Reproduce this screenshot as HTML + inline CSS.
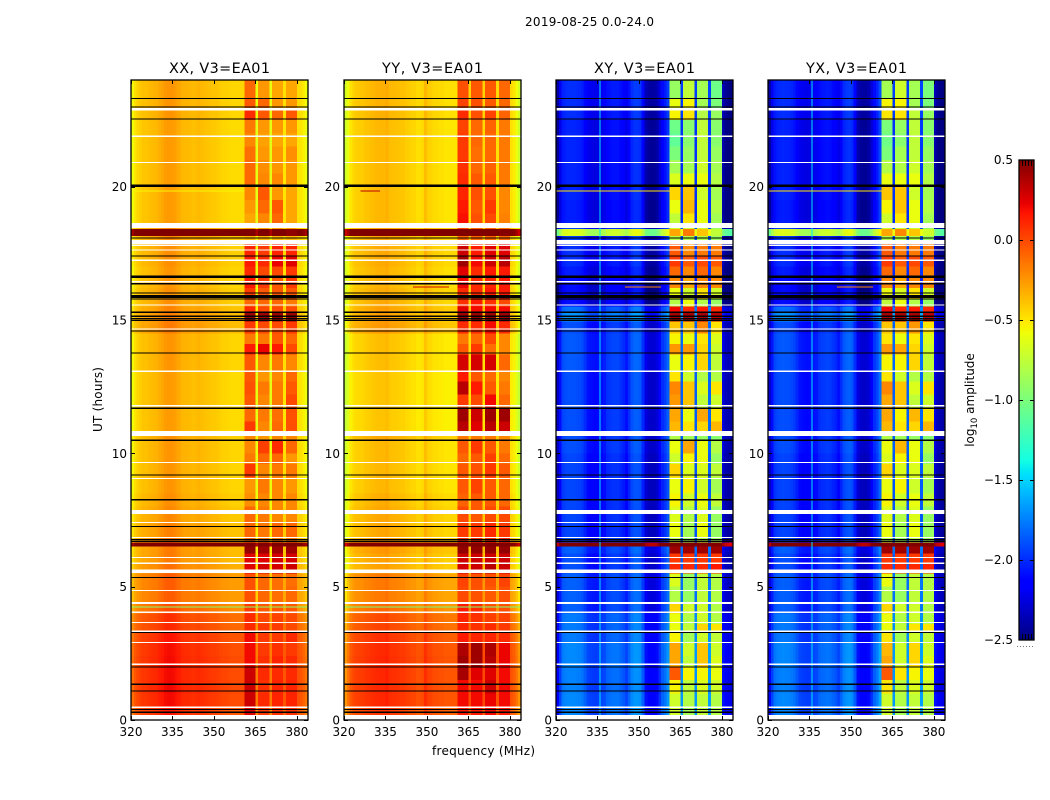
<!DOCTYPE html>
<html lang="en">
<head>
<meta charset="utf-8">
<title>2019-08-25 0.0-24.0</title>
<style>
html,body{margin:0;padding:0;background:#fff;}
svg{display:block;}
text{font-family:"DejaVu Sans","Liberation Sans",sans-serif;fill:#000;}
</style>
</head>
<body>
<svg id="fig" xmlns="http://www.w3.org/2000/svg" width="1050" height="800" viewBox="0 0 1050 800">
  <rect width="1050" height="800" fill="#fff"/>
  <text x="589.5" y="26" font-size="12" text-anchor="middle" textLength="129">2019-08-25 0.0-24.0</text>
  <text x="483.5" y="755" font-size="12" text-anchor="middle" textLength="103">frequency (MHz)</text>
  <text transform="translate(102,399.5) rotate(-90)" font-size="12" text-anchor="middle" textLength="65">UT (hours)</text>
  <text transform="translate(974,400) rotate(-90)" font-size="12" text-anchor="middle">log<tspan font-size="8.5" dy="3">10</tspan><tspan dy="-3"> amplitude</tspan></text>
  <g id="panels"></g>
  <g id="colorbar"></g>
</svg>
<script>
/* ---- data ---- */
const panelNames = ['XX, V3=EA01', 'YY, V3=EA01', 'XY, V3=EA01', 'YX, V3=EA01'];
const xTicks = [320, 335, 350, 365, 380];
const yTicks = [0, 5, 10, 15, 20];
const cbarTicks = [0.5, 0.0, -0.5, -1.0, -1.5, -2.0, -2.5];

/* time-row edges in hours, top to bottom */
const rowEdges = [24,23.3,22.95,22.5,22,21.5,21,20.5,20.05,19.5,19,18.6,18.41,18.15,17.85,17.4,17,16.6,16.2,15.8,15.5,15.3,14.95,14.5,14.1,13.7,13.1,12.7,12.2,11.7,11.2,10.8,10.5,10,9.6,9.1,8.5,8,7.4,6.85,6.65,6.5,6.25,5.9,5.5,5,4.4,4,3.6,3.3,2.9,2.4,2,1.5,1,0.5,0];

/* which receiver sub-band block each 1-MHz channel belongs to (0 = continuum level) */
const channelBlock = [0,0,0,0,0,0,0,0,0,0,0,0,0,0,0,0,0,0,0,0,0,0,0,0,0,0,0,0,0,0,0,0,0,0,0,0,0,0,0,0,0,1,1,1,1,0,2,2,2,2,0,3,3,3,3,0,4,4,4,4,0,0,0,0];

/* per-channel spectral shape (log10 offset), one array per polarisation */
const xxProfile = [-.18,-.1,-.05,-.02,0,0,.02,.03,.04,.05,.08,.1,.13,.14,.14,.13,.1,.08,.05,.04,.04,.03,.02,.03,.04,.03,.02,.01,0,-.01,-.01,-.02,-.04,-.05,-.05,-.06,-.07,-.07,-.07,-.07,-.07,0,0,0,0,-.22,0,0,0,0,-.22,0,0,0,0,-.1,0,0,0,0,-.08,-.1,-.14,-.2];
const yyProfile = [-.3,-.2,-.1,-.05,-.03,-.02,-.02,0,.01,.02,.03,.04,.05,.05,.05,.07,.03,.02,.02,.01,0,0,-.02,-.03,-.05,-.05,-.08,-.08,-.06,.03,-.03,-.04,-.07,-.07,-.08,-.08,-.1,-.1,-.1,-.1,-.1,0,0,0,0,-.06,0,0,0,0,-.06,0,0,0,0,-.08,0,0,0,0,-.08,-.12,-.2,-.3];
const xyProfile = [-.25,-.05,.12,.15,.16,.16,.16,.15,.14,.12,.05,-.03,-.05,-.06,-.07,-.05,-.04,-.02,.06,.08,.1,.1,.1,.06,.02,-.04,.06,.16,.2,.2,.18,.04,-.2,-.25,-.26,-.26,-.22,-.1,.05,.1,.2,0,0,0,0,.2,0,0,0,0,.2,0,0,0,0,.22,0,0,0,0,-.2,-.3,-.33,-.35];
const yxProfile = [-.25,-.05,.1,.14,.15,.16,.15,.15,.13,.1,.04,-.03,-.05,-.06,-.07,-.05,-.04,-.02,.05,.08,.09,.1,.09,.05,.02,-.04,.05,.15,.19,.2,.17,.03,-.2,-.25,-.26,-.26,-.22,-.1,.05,.12,.25,0,0,0,0,.2,0,0,0,0,.2,0,0,0,0,.22,0,0,0,0,-.2,-.3,-.33,-.35];

/* per-row levels: [continuum, block1, block2, block3, block4] */
const xxRows = [
[-.38,-.1,-.25,-.3,-.3],[-.38,-.05,-.1,-.25,-.25],[-.38,.1,-.05,-.1,-.05],[-.4,-.15,-.25,-.25,-.25],[-.4,-.2,-.28,-.3,-.3],[-.4,-.12,-.25,-.25,-.22],[-.4,-.1,-.22,-.25,-.25],[-.4,-.1,-.2,-.2,-.25],
[-.4,-.2,-.05,-.25,-.3],[-.4,-.25,-.1,-.05,-.3],[-.4,-.3,-.2,-.1,-.3],[-.34,-.3,-.3,-.3,-.3],[.6,.52,.52,.5,.46],[-.34,-.35,-.35,-.35,-.35],[-.36,.12,.05,.12,.12],[-.36,.15,.1,.22,.25],
[-.38,.1,0,0,.05],[-.38,.15,.05,-.05,.05],[-.36,.05,-.05,-.05,-.05],[-.36,-.1,-.1,-.1,-.15],[-.32,.1,0,0,0],[-.3,.42,.42,.42,.42],[-.3,.05,0,0,.05],[-.38,-.15,-.15,-.05,-.1],
[-.38,.15,.22,.15,0],[-.38,-.05,-.2,-.15,-.2],[-.4,-.05,-.25,-.2,-.1],[-.4,-.02,-.15,-.15,-.05],[-.4,-.05,-.2,-.15,0],[-.4,-.1,-.15,-.12,-.02],[-.4,.05,-.2,-.1,-.02],[-.36,-.2,-.25,-.2,-.2],
[-.38,-.2,.03,.1,-.1],[-.38,-.15,-.1,-.1,-.25],[-.38,.05,-.2,-.15,-.15],[-.38,-.25,-.15,-.2,-.25],[-.36,-.22,-.2,-.2,-.2],[-.34,-.1,-.15,-.2,-.2],[-.32,-.1,-.15,-.1,-.1],[-.28,-.1,-.15,-.15,-.15],
[.6,.52,.52,.52,.52],[-.3,.45,.42,.42,.42],[-.3,.25,.25,.28,.28],[-.26,.25,.28,.28,.3],[-.2,-.02,-.1,-.12,-.12],[-.2,-.02,-.1,-.12,-.1],[-.15,.05,-.05,-.05,-.05],[-.05,.1,0,.02,0],
[-.03,.1,.05,.05,0],[.03,.2,.05,.05,.1],[.05,.2,.05,.08,.05],[.06,.2,.08,.12,.1],[.06,.3,.1,.1,.1],[.07,.3,.08,.12,.12],[.06,.3,.1,.12,.12],[.03,.25,.05,.08,.08]];
const yyRows = [
[-.38,-.02,-.05,-.05,-.1],[-.38,.02,-.02,-.05,-.1],[-.38,.1,-.02,.02,-.08],[-.4,.02,-.1,-.08,-.15],[-.4,.05,-.1,-.1,-.15],[-.4,.05,-.12,-.1,-.15],[-.4,.08,-.1,-.08,-.15],[-.4,.1,-.05,-.05,-.15],
[-.4,.12,-.02,-.02,-.2],[-.4,.15,-.05,.05,-.2],[-.4,.18,-.02,0,-.18],[-.35,0,-.1,-.1,-.15],[.6,.52,.52,.52,.48],[-.35,-.1,-.1,-.1,-.1],[-.36,.3,.15,.25,.25],[-.36,.42,.2,.3,.35],
[-.38,.25,.1,.15,.15],[-.38,.22,.1,.12,.15],[-.36,.1,.1,.15,.15],[-.36,.08,.15,.08,0],[-.32,.25,.2,.2,.2],[-.32,.42,.42,.42,.42],[-.3,.1,.1,.2,.1],[-.42,-.15,-.1,0,-.2],
[-.42,-.05,.05,-.12,-.2],[-.42,.28,.28,.28,-.1],[-.44,.15,-.05,-.1,-.2],[-.44,.35,.15,-.05,-.15],[-.44,.05,0,.2,-.1],[-.44,.42,.3,.42,.42],[-.44,.35,.25,.35,.3],[-.35,-.15,-.15,-.15,-.2],
[-.4,-.05,.05,-.05,-.15],[-.4,-.1,-.05,.03,-.1],[-.4,-.05,-.02,.05,-.05],[-.4,-.05,.02,-.05,-.1],[-.37,-.08,-.05,-.05,-.1],[-.35,0,-.05,0,0],[-.35,.05,.05,.1,.05],[-.32,.1,.1,.1,.1],
[.6,.55,.55,.55,.55],[-.3,.45,.45,.45,.45],[-.33,.3,.3,.3,.3],[-.33,.28,.3,.35,.3],[-.2,.02,-.02,-.02,.02],[-.2,0,-.03,-.05,-.02],[-.15,.15,.1,-.02,-.02],[-.05,.12,.08,.03,.02],
[-.03,.12,.08,.1,.05],[.03,.15,.12,.12,.1],[.05,.38,.42,.38,.22],[.06,.42,.42,.35,.22],[.06,.4,.25,.25,.2],[.06,.2,.2,.3,.2],[.06,.2,.2,.22,.2],[.02,.15,.15,.2,.15]];
const xyRows = [
[-2.15,-.9,-.75,-.85,-1.05],[-2.15,-.6,-.55,-.85,-1],[-2.15,-.55,-.5,-.8,-.9],[-2.18,-1.05,-.95,-.75,-.95],[-2.18,-1.1,-.95,-.75,-.95],[-2.18,-1,-.9,-.75,-.9],[-2.18,-.85,-.85,-.7,-.85],[-2.18,-.65,-.6,-.6,-.8],
[-2.18,-.45,-.4,-.7,-.85],[-2.2,-.6,-.35,-.6,-.8],[-2.2,-.75,-.5,-.6,-.85],[-2.1,-.7,-.7,-.7,-.9],[-.8,-.3,-.15,-.4,-.75],[-2.1,-.8,-.8,-.8,-.9],[-2.15,-.05,-.2,-.15,-.15],[-2.15,.05,-.05,0,-.05],
[-2.2,-.1,-.2,-.1,-.2],[-2.25,-.2,-.3,-.2,-.2],[-2.25,-.6,-.7,-.5,-.7],[-2.25,-.8,-.6,-.8,-.9],[-1.95,.2,.1,.15,.1],[-1.85,.4,.4,.4,.35],[-2.05,-.4,-.4,-.2,-.5],[-2.02,-.55,-.6,-.5,-.65],
[-2.02,-.25,-.25,-.45,-.7],[-2.02,-.6,-.55,-.45,-.75],[-2.05,-.5,-.7,-.8,-.8],[-2.05,-.2,-.4,-.65,-.5],[-2.05,-.25,-.4,-.75,-.7],[-2.05,-.3,-.6,-.3,-.5],[-2.05,-.35,-.5,-.45,-.35],[-2.05,-.8,-.85,-.9,-.95],
[-2.05,-.6,-.3,-.6,-.8],[-2.08,-.7,-.55,-.6,-.9],[-2.08,-.45,-.65,-.65,-.75],[-2.08,-.6,-.55,-.7,-.85],[-2.08,-.55,-.7,-.6,-.75],[-2.08,-.65,-.8,-.65,-.9],[-2.08,-.6,-.85,-.6,-.9],[-2.05,-.8,-.9,-.8,-.9],
[.6,.6,.6,.6,.6],[-2,.42,.42,.42,.42],[-2.05,.05,.05,.05,.05],[-2.05,.1,.1,.1,.15],[-2,-.65,-.9,-.75,-.8],[-2,-.8,-.9,-.75,-.8],[-2,-.45,-.7,-.7,-.8],[-1.92,-.6,-.8,-.7,-.8],
[-1.92,-.6,-.75,-.45,-.5],[-1.92,-.55,-.85,-.7,-.75],[-1.88,-.3,-.7,-.4,-.7],[-1.88,-.3,-.75,-.4,-.65],[-1.9,-.05,-.55,-.55,-.6],[-1.9,-.55,-.75,-.65,-.7],[-1.88,-.7,-.8,-.75,-.8],[-1.88,-.7,-.85,-.75,-.8]];
const yxRows = [
[-2.15,-.85,-.7,-.85,-1],[-2.15,-.55,-.55,-.85,-1],[-2.15,-.5,-.5,-.75,-.9],[-2.18,-1,-.9,-.75,-.95],[-2.18,-1.05,-.95,-.75,-.95],[-2.18,-1,-.85,-.75,-.9],[-2.18,-.8,-.8,-.7,-.85],[-2.18,-.6,-.6,-.6,-.8],
[-2.18,-.4,-.4,-.7,-.85],[-2.2,-.55,-.4,-.6,-.8],[-2.2,-.7,-.5,-.6,-.85],[-2.1,-.7,-.7,-.7,-.9],[-.8,-.3,-.2,-.4,-.7],[-2.1,-.8,-.8,-.8,-.9],[-2.15,-.05,-.15,-.15,-.15],[-2.15,.05,-.05,0,-.05],
[-2.2,-.1,-.2,-.1,-.2],[-2.25,-.2,-.3,-.2,-.2],[-2.25,-.6,-.65,-.5,-.7],[-2.25,-.75,-.6,-.8,-.9],[-1.95,.2,.1,.15,.1],[-1.85,.4,.4,.4,.35],[-2.05,-.4,-.4,-.25,-.5],[-2.02,-.5,-.6,-.5,-.65],
[-2.02,-.25,-.3,-.45,-.7],[-2.02,-.55,-.55,-.45,-.75],[-2.05,-.5,-.7,-.8,-.8],[-2.05,-.2,-.4,-.65,-.5],[-2.05,-.3,-.4,-.75,-.7],[-2.05,-.3,-.55,-.35,-.5],[-2.05,-.35,-.5,-.45,-.35],[-2.05,-.8,-.85,-.9,-.95],
[-2.05,-.6,-.35,-.6,-.8],[-2.08,-.65,-.55,-.6,-.9],[-2.08,-.45,-.65,-.65,-.75],[-2.08,-.6,-.55,-.7,-.85],[-2.08,-.55,-.7,-.6,-.75],[-2.08,-.65,-.8,-.65,-.9],[-2.08,-.6,-.85,-.6,-.9],[-2.05,-.8,-.9,-.8,-.9],
[.6,.6,.6,.6,.6],[-2,.42,.42,.42,.42],[-2.05,.05,.05,.05,.05],[-2.05,.1,.1,.1,.12],[-2,-.6,-.9,-.75,-.8],[-2,-.8,-.9,-.75,-.8],[-2,-.45,-.7,-.7,-.8],[-1.92,-.6,-.8,-.7,-.8],
[-1.92,-.6,-.75,-.5,-.5],[-1.92,-.5,-.85,-.7,-.75],[-1.88,-.35,-.7,-.45,-.7],[-1.88,-.3,-.7,-.45,-.65],[-1.9,-.05,-.5,-.55,-.6],[-1.9,-.5,-.75,-.65,-.7],[-1.88,-.7,-.8,-.75,-.8],[-1.88,-.7,-.85,-.75,-.8]];

/* flagged (blank) time ranges [startHour, endHour], white = no data, black = masked */
const whiteGaps = [[22.95,22.85],[21.91,21.87],[20.93,20.89],[18.64,18.45],[18.0,17.85],[17.83,17.78],[17.65,17.6],[17.27,17.22],[16.46,16.41],[15.59,15.54],[14.69,14.64],[13.1,13.05],[11.81,11.76],[10.83,10.65],[9.68,9.63],[9.08,9.03],[7.875,7.725],[7.43,7.38],[6.87,6.82],[6.12,6.07],[5.9,5.85],[5.65,5.51],[4.88,4.83],[4.42,4.35],[4.06,4.01],[3.68,3.63],[3.36,3.3],[2.93,2.88],[2.11,2.06],[0.5,0.45],[0.19,0.0]];
const blackLines = [[23.33,23.29],[23.01,22.97],[22.55,22.51],[20.08,19.99],[18.1,18.06],[17.42,17.38],[16.66,16.58],[16.38,16.34],[16.04,16.0],[15.94,15.83],[15.81,15.77],[15.31,15.27],[15.17,15.12],[15.07,15.03],[15.01,14.97],[14.6,14.56],[13.78,13.74],[11.71,11.67],[10.51,10.47],[9.2,9.16],[8.28,8.24],[7.28,7.24],[6.78,6.74],[6.72,6.68],[5.37,5.33],[3.3,3.26],[2.0,1.96],[1.36,1.32],[1.1,1.06],[0.41,0.37],[0.31,0.27]];

/* short RFI streaks: [hour, first channel, last channel, log10 value] */
const xxStreaks = [[19.84,0,40,-.55],[4.24,0,63,-.95],[13.06,26,37,-.02]];
const yyStreaks = [[19.84,6,12,.35],[16.24,25,37,.3],[13.06,31,38,.45],[4.24,0,63,-1.0]];
const xyStreaks = [[19.84,0,40,-.5],[16.24,25,37,-.2],[13.06,26,38,-.6],[1.34,12,14,-.4],[1.34,30,38,-.5]];
const yxStreaks = [[19.84,0,40,-.5],[16.24,25,37,-.2],[13.06,26,38,-.6],[1.34,12,14,-.4],[1.34,30,38,-.5]];

/* narrow constant-frequency spurs: [MHz, log10 value] */
const xxSpurs = [];
const yySpurs = [];
const xySpurs = [[335.7,-1.45]];
const yxSpurs = [[335.7,-1.45]];

const panelProfiles = [xxProfile, yyProfile, xyProfile, yxProfile];
const panelRows = [xxRows, yyRows, xyRows, yxRows];
const panelStreaks = [xxStreaks, yyStreaks, xyStreaks, yxStreaks];
const panelSpurs = [xxSpurs, yySpurs, xySpurs, yxSpurs];

/* ---- layout and scales ---- */
const NS = 'http://www.w3.org/2000/svg';
const panelLefts = [131, 344, 556, 768];
const plotW = 177, plotTop = 80, plotBottom = 720;
const fMin = 320, fMax = 384, hMax = 24;
const cbar = {x: 1019, w: 15, top: 160, bottom: 640, vMin: -2.5, vMax: 0.5};

function xScale(left, f) { return left + (f - fMin) / (fMax - fMin) * plotW; }
function yScale(h) { return plotBottom - h / hMax * (plotBottom - plotTop); }
function cScale(v) { return cbar.bottom - (v - cbar.vMin) / (cbar.vMax - cbar.vMin) * (cbar.bottom - cbar.top); }

function interp(pts, t) {
  for (let i = 1; i < pts.length; i++) {
    if (t <= pts[i][0]) {
      const a = pts[i - 1], b = pts[i];
      return a[1] + (b[1] - a[1]) * (t - a[0]) / (b[0] - a[0]);
    }
  }
  return pts[pts.length - 1][1];
}
const jetR = [[0,0],[.35,0],[.66,1],[.89,1],[1,.5]];
const jetG = [[0,0],[.125,0],[.375,1],[.64,1],[.91,0],[1,0]];
const jetB = [[0,.5],[.11,1],[.34,1],[.65,0],[1,0]];
function jet(v) {
  const t = Math.max(0, Math.min(1, (v - cbar.vMin) / (cbar.vMax - cbar.vMin)));
  return 'rgb(' + Math.round(interp(jetR, t) * 255) + ',' + Math.round(interp(jetG, t) * 255) + ',' + Math.round(interp(jetB, t) * 255) + ')';
}
function mk(tag, attrs, parent) {
  const el = document.createElementNS(NS, tag);
  for (const k in attrs) el.setAttribute(k, attrs[k]);
  parent.appendChild(el);
  return el;
}
function tickLine(parent, x1, y1, x2, y2) {
  const t = mk('line', {x1: x1, y1: y1, x2: x2, y2: y2, stroke: '#000', 'stroke-width': 1}, parent);
  
  
  return t;
}

/* ---- panels ---- */
const panelsRoot = document.getElementById('panels');
panelNames.forEach(function (name, p) {
  const left = panelLefts[p];
  const g = mk('g', {}, panelsRoot);
  
  

  const cells = mk('g', {'shape-rendering': 'crispEdges'}, g);
  
  

  const profile = panelProfiles[p], rows = panelRows[p];
  rows.forEach(function (row, r) {
    const y0 = yScale(rowEdges[r]), y1 = yScale(rowEdges[r + 1]);
    profile.forEach(function (off, ch) {
      const value = row[channelBlock[ch]] + off;
      const x0 = xScale(left, fMin + ch), x1 = xScale(left, fMin + ch + 1);
      const c = mk('rect', {x: x0, y: y0, width: x1 - x0, height: y1 - y0, fill: jet(value)}, cells);
      
      
    });
  });

  panelSpurs[p].forEach(function (s) {
    const sp = mk('rect', {x: xScale(left, s[0]), y: plotTop, width: 1, height: plotBottom - plotTop, fill: jet(s[1])}, cells);
    
    
  });
  panelStreaks[p].forEach(function (s) {
    const st = mk('rect', {x: xScale(left, fMin + s[1]), y: yScale(s[0]) - 0.5, width: xScale(left, fMin + s[2] + 1) - xScale(left, fMin + s[1]), height: 1, fill: jet(s[3])}, cells);
    
    
  });
  whiteGaps.forEach(function (b) {
    const w = mk('rect', {x: left, y: yScale(b[0]), width: plotW, height: yScale(b[1]) - yScale(b[0]), fill: '#fff'}, cells);
    
    
  });
  blackLines.forEach(function (b) {
    const k = mk('rect', {x: left, y: yScale(b[0]), width: plotW, height: yScale(b[1]) - yScale(b[0]), fill: '#000'}, cells);
    
    
  });

  const frame = mk('rect', {x: left, y: plotTop, width: plotW, height: plotBottom - plotTop, fill: 'none', stroke: '#000', 'stroke-width': 1.3}, g);
  
  

  xTicks.forEach(function (f) {
    const x = Math.round(xScale(left, f)) + 0.5;
    tickLine(g, x, plotBottom, x, plotBottom - 4);
    tickLine(g, x, plotTop, x, plotTop + 4);
    const tl = mk('text', {x: xScale(left, f), y: 736, 'font-size': 12, 'text-anchor': 'middle'}, g);
    tl.textContent = String(f);
    
    
  });
  yTicks.forEach(function (h) {
    const y = Math.round(yScale(h)) + 0.5;
    tickLine(g, left, y, left + 4, y);
    tickLine(g, left + plotW, y, left + plotW - 4, y);
    const tl = mk('text', {x: left - 4, y: yScale(h) + 4.5, 'font-size': 12, 'text-anchor': 'end'}, g);
    tl.textContent = String(h);
    
    
  });

  const title = mk('text', {x: left + plotW / 2, y: 73, 'font-size': 14.4, 'text-anchor': 'middle', textLength: 101}, g);
  title.textContent = name;
  
  
});

/* ---- colorbar ---- */
const cbRoot = document.getElementById('colorbar');
const cbSteps = 240;
const cbCells = mk('g', {'shape-rendering': 'crispEdges'}, cbRoot);


for (let i = 0; i < cbSteps; i++) {
  const v0 = cbar.vMin + (cbar.vMax - cbar.vMin) * i / cbSteps;
  const v1 = cbar.vMin + (cbar.vMax - cbar.vMin) * (i + 1) / cbSteps;
  const seg = mk('rect', {x: cbar.x, y: cScale(v1), width: cbar.w, height: cScale(v0) - cScale(v1), fill: jet((v0 + v1) / 2)}, cbCells);
  
  
}
const cbFrame = mk('rect', {x: cbar.x, y: cbar.top, width: cbar.w, height: cbar.bottom - cbar.top, fill: 'none', stroke: '#000', 'stroke-width': 1.3}, cbRoot);


cbarTicks.forEach(function (v) {
  const y = Math.round(cScale(v)) + 0.5;
  if (v !== cbar.vMax && v !== cbar.vMin) {
    tickLine(cbRoot, cbar.x, y, cbar.x + 4, y);
    tickLine(cbRoot, cbar.x + cbar.w, y, cbar.x + cbar.w - 4, y);
  }
  const tl = mk('text', {x: cbar.x - 6, y: cScale(v) + 4, 'font-size': 12, 'text-anchor': 'end'}, cbRoot);
  tl.textContent = v.toFixed(1).replace('-', '\u2212');
  
  
});
for (let i = 1; i < 5; i++) {
  const x = cbar.x + i * cbar.w / 5 + 0.5;
  tickLine(cbRoot, x, cbar.top, x, cbar.top + 6);
  tickLine(cbRoot, x, cbar.bottom, x, cbar.bottom - 6);
}
const dots = mk('line', {x1: 1017, y1: 646.5, x2: 1035, y2: 646.5, stroke: '#777', 'stroke-width': 1, 'stroke-dasharray': '1 2'}, cbRoot);


</script>
</body>
</html>
